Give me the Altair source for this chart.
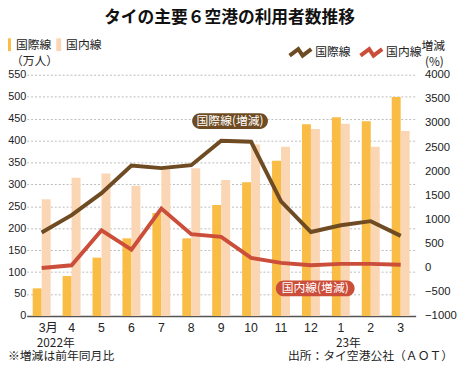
import altair as alt
import pandas as pd

# ---------------- data ----------------
month_keys = ["2022-03", "2022-04", "2022-05", "2022-06", "2022-07", "2022-08", "2022-09",
              "2022-10", "2022-11", "2022-12", "2023-01", "2023-02", "2023-03"]
month_labels = ["3月", "4", "5", "6", "7", "8", "9", "10", "11", "12", "1", "2", "3"]
series = ["国際線", "国内線"]

intl_pax = [63, 91, 133, 177, 235, 177, 253, 305, 354, 437, 453, 444, 499]      # 万人
dom_pax = [266, 315, 325, 297, 334, 337, 310, 391, 386, 426, 438, 386, 422]     # 万人
intl_growth = [730, 1090, 1545, 2120, 2065, 2125, 2630, 2610, 1375, 740, 880, 965, 660]  # %
dom_growth = [-5, 50, 775, 375, 1225, 695, 640, 205, 100, 50, 80, 80, 60]               # %

year_keys = ["2022-03", "2023-01"]
year_labels = ["2022年", "23年"]

bars_df = pd.DataFrame({
    "month": month_keys * 2,
    "series": [series[0]] * len(month_keys) + [series[1]] * len(month_keys),
    "value": intl_pax + dom_pax,
})
lines_df = pd.DataFrame({
    "month": month_keys * 2,
    "series": [series[0]] * len(month_keys) + [series[1]] * len(month_keys),
    "growth": intl_growth + dom_growth,
})
years_df = pd.DataFrame({"month": year_keys, "label": year_labels})

# ---------------- style ----------------
JP = "Noto Sans CJK JP"
NUM = "Liberation Sans Narrow, Liberation Sans, Noto Sans CJK JP, sans-serif"
DARK = "#F9BD45"
LIGHT = "#FBD6B4"
BROWN = "#6E4B22"
RED = "#CB4E3A"
TXT = "#222222"

label_map = "{" + ",".join(f"'{k}':'{l}'" for k, l in zip(month_keys, month_labels)) + "}"

x_axis = alt.Axis(
    title=None, labelExpr=f"{label_map}[datum.value]", labelAngle=0, ticks=False,
    domainColor="#555555", domainWidth=1.5, labelFont=NUM, labelFontSize=12.5,
    labelColor=TXT, labelPadding=6, grid=False,
    labelAlign={"condition": {"test": "datum.value == '2022-03'", "value": "left"}, "value": "center"},
    labelOffset={"condition": {"test": "datum.value == '2022-03'", "value": -3}, "value": 0},
)
x_scale = alt.Scale(domain=month_keys, paddingInner=0.4, paddingOuter=0.2)

bars = alt.Chart(bars_df).mark_bar().encode(
    x=alt.X("month:N", sort=month_keys, scale=x_scale, axis=x_axis),
    xOffset=alt.XOffset("series:N", sort=series,
                        scale=alt.Scale(domain=series, paddingInner=0, paddingOuter=0)),
    y=alt.Y("value:Q", scale=alt.Scale(domain=[0, 550], nice=False),
            axis=alt.Axis(orient="left", values=list(range(0, 551, 50)), title=None,
                          ticks=False, domain=False, gridDash=[2, 2], gridColor="#BBBBBB",
                          gridWidth=1, labelFont=NUM, labelFontSize=11, labelColor=TXT,
                          labelPadding=1, format="d")),
    color=alt.Color("series:N", sort=series,
                    scale=alt.Scale(domain=series, range=[DARK, LIGHT]),
                    legend=alt.Legend(orient="none", legendX=-25, legendY=-37,
                                      direction="horizontal", title=None,
                                      symbolType="M-0.38,-1H0.38V1H-0.38Z", symbolSize=169,
                                      symbolStrokeWidth=0, labelFont=JP, labelFontSize=12,
                                      labelColor=TXT, labelOffset=1, columnPadding=0)),
)

lines = alt.Chart(lines_df).mark_line(strokeWidth=4).encode(
    x=alt.X("month:N", sort=month_keys, scale=x_scale, axis=x_axis),
    y=alt.Y("growth:Q", scale=alt.Scale(domain=[-1000, 4000], nice=False),
            axis=alt.Axis(orient="right", values=list(range(-1000, 4001, 500)), title=None,
                          grid=False, ticks=False, domain=False, labelFont=NUM,
                          labelFontSize=11.5, labelColor=TXT, labelPadding=9, format="d")),
    color=alt.Color("series:N", sort=series,
                    scale=alt.Scale(domain=series, range=[BROWN, RED]),
                    legend=alt.Legend(orient="none", legendX=265, legendY=-36,
                                      direction="horizontal", title=None,
                                      symbolType="M-1,0.3L-0.2,-0.3L0.2,0.3L1,-0.3",
                                      symbolSize=484, symbolStrokeWidth=4,
                                      symbolFillColor="transparent",
                                      labelFont=JP, labelFontSize=12, labelColor=TXT,
                                      labelOffset=2, columnPadding=1)),
)

years = alt.Chart(years_df).mark_text(
    align="left", baseline="middle", dx=-5, font=JP, fontSize=12, color=TXT
).encode(
    x=alt.X("month:N", sort=month_keys, scale=x_scale, axis=x_axis),
    y=alt.value(272.5),
    text="label:N",
)

one = alt.Data(values=[{}])


def note(text, x, y, size=12, color=TXT, align="left", weight="normal"):
    return alt.Chart(one).mark_text(
        text=text, align=align, baseline="middle", font=JP, fontSize=size,
        color=color, fontWeight=weight
    ).encode(x=alt.value(x), y=alt.value(y))


def badge(x1, x2, y1, y2, color):
    return alt.Chart(one).mark_rect(cornerRadius=8, color=color).encode(
        x=alt.value(x1), x2=alt.value(x2), y=alt.value(y1), y2=alt.value(y2))


layers = [
    bars, lines, years,
    badge(168, 245, 39, 55, BROWN),
    note("国際線(増減)", 206.5, 47, color="white", align="center"),
    badge(253, 333, 209, 225, RED),
    note("国内線(増減)", 293, 217, color="white", align="center"),
    note("（万人）", -16, -14),
    note("増減", 413, -29, align="center"),
    note("(%)", 414, -13, align="center"),
    note("※増減は前年同月比", -19, 285.5),
    note("出所：タイ空港公社（ＡＯＴ）", 433, 285.5, align="right"),
    note("タイの主要６空港の利用者数推移", 206, -58, size=17, color="#111111",
         align="center", weight="bold"),
]

chart = alt.layer(*layers).resolve_scale(
    y="independent", color="independent"
).properties(
    width=395, height=245,
    padding={"left": 19, "top": 65, "right": 42, "bottom": 46},
    autosize=alt.AutoSizeParams(type="none"),
).configure_view(stroke=None)

chart.save("out.html", embed_options={"renderer": "svg", "actions": False})
